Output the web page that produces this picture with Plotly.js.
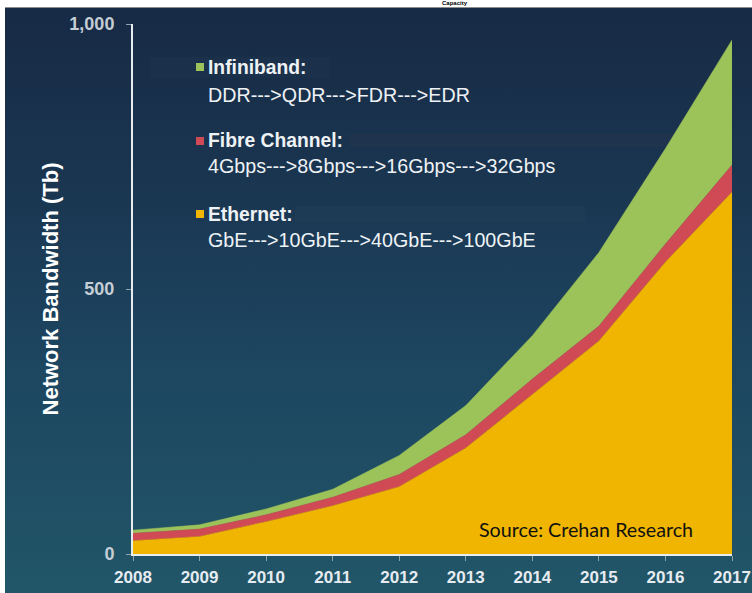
<!DOCTYPE html>
<html>
<head>
<meta charset="utf-8">
<script src="https://cdn.plot.ly/plotly-3.0.1.min.js"></script>
<style>
  html, body { margin: 0; padding: 0; background: #ffffff; }
  #chart {
    width: 752px; height: 593px;
    background:
      linear-gradient(to right, #ffffff 0, #ffffff 5px, rgba(255,255,255,0) 5px),
      linear-gradient(to bottom, #ffffff 0, #ffffff 7px, #8c8c8c 7px, #8c8c8c 8px, #172a45 8px, #1a3550 30%, #1d4560 60%, #215668 100%);
  }
</style>
</head>
<body>
<div id="chart"></div>
<script>
// ---- data ----
const years = [2008, 2009, 2010, 2011, 2012, 2013, 2014, 2015, 2016, 2017];
const ethernet = [25, 33, 61, 91, 127, 200, 301, 402, 551, 683];
const fibreChannel = [14, 14, 13, 16, 23, 25, 29, 28, 34, 51];
const infiniband = [6, 8, 11, 15, 36, 55, 82, 139, 180, 236];
const seriesNames = ["Infiniband:", "Fibre Channel:", "Ethernet:"];
const seriesSteps = ["DDR--->QDR--->FDR--->EDR", "4Gbps--->8Gbps--->16Gbps--->32Gbps", "GbE--->10GbE--->40GbE--->100GbE"];
const yTicks = [0, 500, 1000];
const yTickText = ["0", "500", "1,000"];
const yTitle = "Network Bandwidth (Tb)";
const sourceNote = "Source: Crehan Research";
const chartTitle = "Capacity";

// ---- styling ----
const colors = { eth: "#efb500", fc: "#cf4a55", ib: "#9cc25a" };
const W = 752, H = 593;
const M = { l: 133, r: 20, t: 24, b: 39 };
const pw = W - M.l - M.r, ph = H - M.t - M.b;
const px = v => (v - M.l) / pw;          // pixel x -> paper
const py = v => (H - M.b - v) / ph;      // pixel y -> paper
const FONT = "Arial, Liberation Sans, sans-serif";

const traces = [
  { x: years, y: ethernet, name: "Ethernet", stackgroup: "bw", fillcolor: colors.eth,
    line: { width: 0.5, color: colors.eth }, mode: "lines", hoverinfo: "x+y" },
  { x: years, y: fibreChannel, name: "Fibre Channel", stackgroup: "bw", fillcolor: colors.fc,
    line: { width: 0.5, color: colors.fc }, mode: "lines", hoverinfo: "x+y" },
  { x: years, y: infiniband, name: "Infiniband", stackgroup: "bw", fillcolor: colors.ib,
    line: { width: 0.5, color: colors.ib }, mode: "lines", hoverinfo: "x+y" }
];

const legendColors = [colors.ib, colors.fc, colors.eth];
const headY = [67, 141, 214];
const stepY = [95, 166, 240];

const annotations = [];
const shapes = [];
// very faint highlight bands behind legend rows
shapes.push({ type: "rect", xref: "paper", yref: "paper", x0: px(150), x1: px(330), y0: py(77), y1: py(57),
  fillcolor: "rgba(255,255,255,0.015)", line: { width: 0 }, layer: "below" });
shapes.push({ type: "rect", xref: "paper", yref: "paper", x0: px(350), x1: px(700), y0: py(147), y1: py(134),
  fillcolor: "rgba(200,90,90,0.035)", line: { width: 0 }, layer: "below" });
shapes.push({ type: "rect", xref: "paper", yref: "paper", x0: px(295), x1: px(585), y0: py(222), y1: py(206),
  fillcolor: "rgba(255,255,255,0.015)", line: { width: 0 }, layer: "below" });

seriesNames.forEach((n, i) => {
  shapes.push({ type: "rect", xref: "paper", yref: "paper",
    x0: px(196), x1: px(204), y0: py(headY[i] + 4), y1: py(headY[i] - 4),
    fillcolor: legendColors[i], line: { width: 0 } });
  annotations.push({ xref: "paper", yref: "paper", x: px(206), y: py(headY[i]), xanchor: "left", yanchor: "middle",
    text: "<b>" + n + "</b>", showarrow: false, font: { family: FONT, size: 19.3, color: "#eef2f5" } });
  annotations.push({ xref: "paper", yref: "paper", x: px(206), y: py(stepY[i]), xanchor: "left", yanchor: "middle",
    text: seriesSteps[i], showarrow: false, font: { family: FONT, size: 19.7, color: "#eef2f5" } });
});

annotations.push({ xref: "paper", yref: "paper", x: px(586), y: py(529), xanchor: "center", yanchor: "middle",
  text: sourceNote, showarrow: false, font: { family: "Lato, Open Sans, sans-serif", size: 19.7, color: "#111111" } });

// title, mostly outside the picture in the reference: kept small in the top white strip
annotations.push({ xref: "paper", yref: "paper", x: px(455), y: py(3.5), xanchor: "center", yanchor: "middle",
  text: "<b>" + chartTitle + "</b>", showarrow: false, borderpad: 0,
  font: { family: FONT, size: 6, color: "#000000" } });

const layout = {
  width: W, height: H,
  margin: M,
  paper_bgcolor: "rgba(0,0,0,0)",
  plot_bgcolor: "rgba(0,0,0,0)",
  showlegend: false,
  xaxis: {
    range: [2008, 2017], tickvals: years, ticktext: years.map(String),
    showgrid: false, zeroline: false,
    showline: true, linecolor: "#e6ecef", linewidth: 2,
    ticks: "outside", ticklen: 5, tickcolor: "#8fa3ad", tickwidth: 1,
    ticklabelstandoff: 2, ticklabeloverflow: "allow",
    tickfont: { family: FONT, size: 17, color: "#e6ecf2", weight: "bold" },
    fixedrange: true
  },
  yaxis: {
    range: [0, 1000], tickvals: yTicks, ticktext: yTickText,
    showgrid: false, zeroline: false,
    showline: true, linecolor: "#e6ecef", linewidth: 2,
    ticks: "outside", ticklen: 5, tickcolor: "#8fa3ad", tickwidth: 1,
    ticklabelstandoff: 8,
    tickfont: { family: FONT, size: 18, color: "#c5ced5", weight: "bold" },
    title: { text: "<b>" + yTitle + "</b>", standoff: 5,
      font: { family: FONT, size: 22, color: "#ffffff" } },
    automargin: false,
    fixedrange: true
  },
  shapes: shapes,
  annotations: annotations
};

Plotly.newPlot("chart", traces, layout, { displayModeBar: false, staticPlot: true });
</script>
</body>
</html>
